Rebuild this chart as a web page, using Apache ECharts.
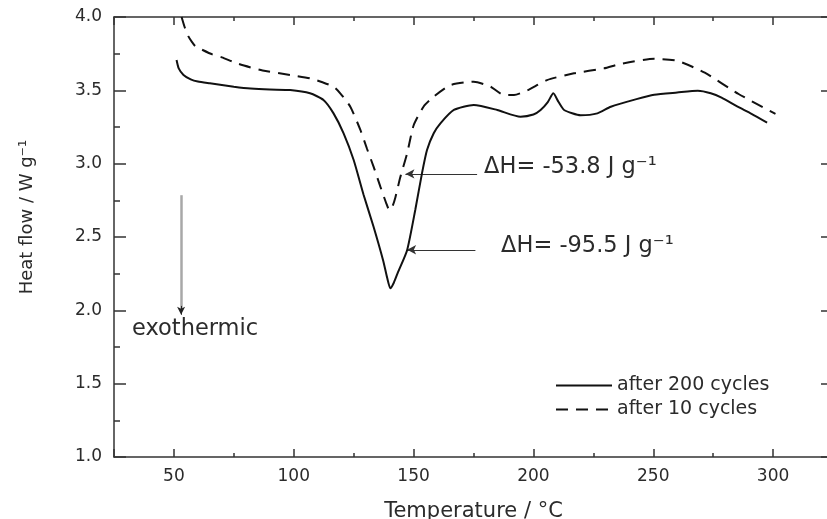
<!DOCTYPE html>
<html><head><meta charset="utf-8">
<script src="https://cdn.jsdelivr.net/npm/echarts@6/dist/echarts.min.js"></script>
<style>html,body{margin:0;padding:0;background:#fff}#c{width:827px;height:519px}</style>
</head><body><div id="c"></div>
<script>
// ---- data ----
const seriesNames = ['after 200 cycles', 'after 10 cycles'];
const temp200 = [51.1,52,54,57,60,65,75,82,90,98.5,106.8,112.4,116.6,120.8,125,129.1,133.3,137.3,139,140.3,141.8,143.5,147.3,150.7,153.5,155.6,158.4,161.2,166.8,175.1,184.9,194.6,200,203,206,208.3,210.5,212.8,219.7,226.7,232.3,243,250.4,260,268.6,274,278.5,285,291,297.5];
const heat200 = [3.707,3.65,3.605,3.575,3.56,3.548,3.525,3.512,3.505,3.502,3.48,3.434,3.343,3.207,3.025,2.79,2.57,2.34,2.22,2.15,2.19,2.26,2.41,2.684,2.934,3.093,3.207,3.275,3.366,3.40,3.366,3.32,3.335,3.366,3.42,3.48,3.42,3.366,3.33,3.343,3.388,3.44,3.47,3.485,3.497,3.48,3.45,3.39,3.34,3.28];
const temp10 = [53.2,54.5,56,57.5,59,62,66,70,77,87,98.5,106.8,112,116.6,119.4,123.6,127.8,130.6,133.3,136.1,138.6,139.9,141.2,142.4,144.5,147.3,150,154.2,158.4,165.4,175.1,182.1,187.7,191.9,197.5,205.7,216.9,229.5,236.2,250.4,260.3,271.5,285.6,301];
const heat10 = [4.0,3.93,3.87,3.83,3.8,3.775,3.745,3.725,3.68,3.635,3.605,3.582,3.555,3.525,3.48,3.388,3.23,3.1,2.98,2.845,2.73,2.684,2.71,2.77,2.91,3.07,3.26,3.39,3.457,3.536,3.559,3.525,3.468,3.468,3.50,3.57,3.616,3.65,3.68,3.715,3.70,3.62,3.475,3.34];
const xTickLabels = [50,100,150,200,250,300];
const yTickLabels = [1.0,1.5,2.0,2.5,3.0,3.5,4.0];
const annotTexts = ['ΔH= -53.8 J g⁻¹', 'ΔH= -95.5 J g⁻¹', 'exothermic'];

// ---- chart ----
const FONT = 'DejaVu Sans';
const TXT = '#2b2b2b';
const AX = '#333';
const pairs = (t, v) => t.map((x, i) => [x, v[i]]);
const chart = echarts.init(document.getElementById('c'), null, {renderer: 'canvas'});

const xMin = 25, xMax = 325, yMin = 1, yMax = 4;
const baseX = (pos, extra) => Object.assign({
  type: 'value', min: xMin, max: xMax, position: pos,
  splitLine: {show: false},
  axisLine: {show: true, onZero: false, lineStyle: {color: AX, width: 1.5}},
  axisTick: {show: true, inside: true, length: 8, lineStyle: {color: AX, width: 1.5}},
  axisLabel: {show: false}
}, extra);
const baseY = (pos, extra) => Object.assign({
  type: 'value', min: yMin, max: yMax, interval: 0.5, position: pos,
  splitLine: {show: false},
  axisLine: {show: true, onZero: false, lineStyle: {color: AX, width: 1.5}},
  axisTick: {show: true, inside: true, length: 12, lineStyle: {color: AX, width: 1.5}},
  minorTick: {show: true, splitNumber: 2, length: 6, lineStyle: {color: AX, width: 1.5}},
  axisLabel: {show: false}
}, extra);

const option = {
  animation: false,
  backgroundColor: '#fff',
  grid: {left: 114, right: -6, top: 17, bottom: 62, containLabel: false, outerBoundsMode: 'none'},
  legend: {
    data: seriesNames, orient: 'vertical', left: 550, top: 371,
    itemWidth: 56, itemHeight: 18, itemGap: 5, selectedMode: false,
    itemStyle: {opacity: 0},
    textStyle: {fontFamily: FONT, fontSize: 19, color: TXT}
  },
  xAxis: [
    baseX('bottom', {
      name: 'Temperature / °C', nameLocation: 'middle', nameGap: 44,
      nameTextStyle: {fontFamily: FONT, fontSize: 21, color: TXT},
      axisLabel: {show: true, margin: 11, fontFamily: FONT, fontSize: 17, color: TXT,
        formatter: v => (xTickLabels.indexOf(v) >= 0 ? String(v) : '')}
    }),
    baseX('bottom', {interval: 25, axisLine: {show: false}, axisTick: {show: true, inside: true, length: 4, lineStyle: {color: AX, width: 1.5}}}),
    baseX('top', {}),
    baseX('top', {interval: 25, axisLine: {show: false}, axisTick: {show: true, inside: true, length: 4, lineStyle: {color: AX, width: 1.5}}})
  ],
  yAxis: [
    baseY('left', {
      name: 'Heat flow / W g⁻¹', nameLocation: 'middle', nameRotate: 90, nameGap: 78,
      nameTextStyle: {fontFamily: FONT, fontSize: 18, color: TXT, padding: [0, 0, 0, 40]},
      axisLabel: {show: true, margin: 12, fontFamily: FONT, fontSize: 17, color: TXT,
        formatter: v => (yTickLabels.indexOf(v) >= 0 ? v.toFixed(1) : '')}
    }),
    baseY('right', {})
  ],
  series: [
    {
      name: seriesNames[0], type: 'line', xAxisIndex: 0, yAxisIndex: 0,
      data: pairs(temp200, heat200), showSymbol: false, symbol: 'none', smooth: 0.2,
      lineStyle: {color: '#111', width: 2, type: 'solid'}, itemStyle: {color: '#111'},
      z: 5,
      markLine: {
        silent: true, animation: false, label: {show: false}, precision: 4,
        symbolSize: [7, 9],
        data: [
          [{coord: [146.6, 2.93], symbol: 'arrow', lineStyle: {color: '#333', width: 1, type: 'solid'}},
           {coord: [176.5, 2.93], symbol: 'none'}],
          [{coord: [147.3, 2.413], symbol: 'arrow', lineStyle: {color: '#333', width: 1, type: 'solid'}},
           {coord: [175.8, 2.413], symbol: 'none'}],
          [{coord: [53, 2.785], symbol: 'none', lineStyle: {color: '#a8a8a8', width: 2.5, type: 'solid'}},
           {coord: [53, 2.0], symbol: 'none'}],
          [{coord: [53, 2.03], symbol: 'none', lineStyle: {color: '#222', width: 1, type: 'solid'}},
           {coord: [53, 1.97], symbol: 'arrow', symbolSize: [6, 8]}]
        ]
      },
      markPoint: {
        silent: true, animation: false, symbol: 'circle', symbolSize: 1,
        itemStyle: {color: 'rgba(0,0,0,0)'},
        label: {show: true, position: 'right', distance: 0, fontFamily: FONT, color: TXT},
        data: [
          {coord: [179.2, 2.975], label: {formatter: annotTexts[0], fontSize: 22.5}},
          {coord: [186.3, 2.44], label: {formatter: annotTexts[1], fontSize: 22.5}},
          {coord: [32.3, 1.87], label: {formatter: annotTexts[2], fontSize: 22.5}}
        ]
      }
    },
    {
      name: seriesNames[1], type: 'line', xAxisIndex: 0, yAxisIndex: 0,
      data: pairs(temp10, heat10), showSymbol: false, symbol: 'none', smooth: 0.2,
      lineStyle: {color: '#111', width: 2, type: [12, 8]}, itemStyle: {color: '#111'},
      z: 5
    }
  ]
};
chart.setOption(option);
</script>
</body></html>
